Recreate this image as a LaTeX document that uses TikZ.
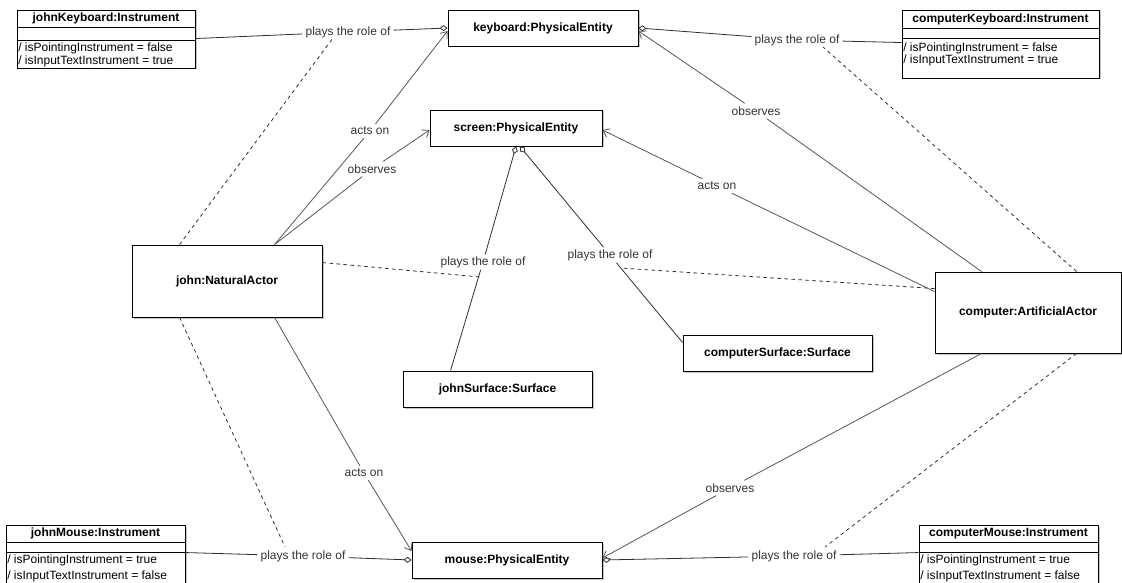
\documentclass[tikz,border=0pt]{standalone}
\usepackage{fontspec}
\setmainfont{Liberation Sans}
\usetikzlibrary{arrows.meta,shadows,calc}

\definecolor{edgegray}{HTML}{2E2E2E}
\definecolor{linkgray}{HTML}{555555}
\definecolor{labelgray}{HTML}{333333}

\begin{document}
\begin{tikzpicture}[x=1pt,y=-1pt,
  every node/.style={font=\fontsize{12}{14}\selectfont},
  obj/.style={draw=black, fill=white, line width=0.9pt, inner sep=0pt,
    font=\fontsize{12}{14}\selectfont\bfseries,
    drop shadow={shadow xshift=1.5pt, shadow yshift=-1.5pt, fill=gray, opacity=0.45}},
  sepline/.style={draw=black, line width=0.9pt},
  ttl/.style={font=\fontsize{12}{14}\selectfont\bfseries, inner sep=0pt},
  attr/.style={anchor=west, inner sep=0pt},
  role/.style={text=labelgray, inner xsep=3pt, inner ysep=2pt},
  rel/.style={text=labelgray, inner xsep=3pt, inner ysep=3pt},
  roleline/.style={draw=edgegray, line width=0.8pt},
  agg/.style={-{Diamond[fill=white, length=8pt, width=6pt]}},
  relline/.style={draw=linkgray, line width=0.8pt, -{Straight Barb[length=6pt, width=9pt]}},
  assoc/.style={draw=edgegray, line width=0.8pt, dash pattern=on 3.5pt off 3.5pt}
]
\useasboundingbox (0,0) rectangle (1122,583);

% ---------- physical entities and actors ----------
\node[obj, minimum width=190pt, minimum height=36pt] (keyboard) at (543,28) {keyboard:PhysicalEntity};
\node[obj, minimum width=172pt, minimum height=36pt] (screen) at (516,128) {screen:PhysicalEntity};
\node[obj, minimum width=190pt, minimum height=36pt] (mouse) at (507,560) {mouse:PhysicalEntity};
\node[obj, minimum width=190pt, minimum height=72pt] (john) at (227,281) {john:NaturalActor};
\node[obj, minimum width=186pt, minimum height=81pt] (computer) at (1028,312.5) {computer:ArtificialActor};
\node[obj, minimum width=189pt, minimum height=36pt] (js) at (497.5,389) {johnSurface:Surface};
\node[obj, minimum width=189pt, minimum height=36pt] (cs) at (777.5,353) {computerSurface:Surface};

% ---------- instruments (three compartments) ----------
\node[obj, minimum width=178pt, minimum height=58pt] (jk) at (106,39) {};
\draw[sepline] ($(jk.north west)+(0,18)$) -- ($(jk.north east)+(0,18)$);
\draw[sepline] ($(jk.north west)+(0,31)$) -- ($(jk.north east)+(0,31)$);
\node[ttl] at ($(jk.north)+(0,9)$) {johnKeyboard:Instrument};
\node[attr] at ($(jk.north west)+(1.5,38.5)$) {/ isPointingInstrument = false};
\node[attr] at ($(jk.north west)+(1.5,52)$) {/ isInputTextInstrument = true};

\node[obj, minimum width=197pt, minimum height=68pt] (ck) at (1000.5,44) {};
\draw[sepline] ($(ck.north west)+(0,19)$) -- ($(ck.north east)+(0,19)$);
\draw[sepline] ($(ck.north west)+(0,29)$) -- ($(ck.north east)+(0,29)$);
\node[ttl] at ($(ck.north)+(0,9.5)$) {computerKeyboard:Instrument};
\node[attr] at ($(ck.north west)+(1.5,38.5)$) {/ isPointingInstrument = false};
\node[attr] at ($(ck.north west)+(1.5,51)$) {/ isInputTextInstrument = true};

\node[obj, minimum width=179pt, minimum height=75pt] (jm) at (95.5,562.5) {};
\draw[sepline] ($(jm.north west)+(0,18)$) -- ($(jm.north east)+(0,18)$);
\draw[sepline] ($(jm.north west)+(0,28)$) -- ($(jm.north east)+(0,28)$);
\node[ttl] at ($(jm.north)+(0,9)$) {johnMouse:Instrument};
\node[attr] at ($(jm.north west)+(1.5,36)$) {/ isPointingInstrument = true};
\node[attr] at ($(jm.north west)+(1.5,52)$) {/ isInputTextInstrument = false};

\node[obj, minimum width=179pt, minimum height=75pt] (cm) at (1008.5,562.5) {};
\draw[sepline] ($(cm.north west)+(0,18)$) -- ($(cm.north east)+(0,18)$);
\draw[sepline] ($(cm.north west)+(0,28)$) -- ($(cm.north east)+(0,28)$);
\node[ttl] at ($(cm.north)+(0,9)$) {computerMouse:Instrument};
\node[attr] at ($(cm.north west)+(1.5,36)$) {/ isPointingInstrument = true};
\node[attr] at ($(cm.north west)+(1.5,52)$) {/ isInputTextInstrument = false};

% ---------- link labels ----------
\node[role] (lJK) at (348,32) {plays the role of};
\node[role] (lCK) at (797,40) {plays the role of};
\node[role] (lJM) at (303,556) {plays the role of};
\node[role] (lCM) at (794,556) {plays the role of};
\node[role] (lJS) at (483,262) {plays the role of};
\node[role] (lCS) at (610,255) {plays the role of};

\node[rel] (aK) at (370,131) {acts on};
\node[rel] (oS) at (372,169) {observes};
\node[rel] (aM) at (364,473) {acts on};
\node[rel] (oK) at (756,111) {observes};
\node[rel] (aS) at (717,186) {acts on};
\node[rel] (oM) at (730,488) {observes};

% ends of the association-class links
\coordinate (cJK) at (333,38);
\coordinate (cJM) at (285,547);
\coordinate (cJS) at (480,277);
\coordinate (cCS) at (620,268);
\coordinate (cCK) at (823,47);
\coordinate (cCM) at (825,547);

% ---------- "plays the role of" links ----------
\draw[roleline, agg] ($(jk.north east)+(0,29)$) -- (lJK) -- (keyboard.west);
\draw[roleline, agg] ($(ck.north west)+(0,33)$) -- (lCK) -- (keyboard.east);
\draw[roleline, agg] ($(jm.north east)+(0,28)$) -- (lJM) -- (mouse.west);
\draw[roleline, agg] ($(cm.north west)+(0,28)$) -- (lCM) -- (mouse.east);
\draw[roleline, agg] ($(js.north west)+(48,0)$) -- (lJS) -- (screen.south);
\draw[roleline, agg] ($(cs.north west)+(0,8)$) -- (lCS) -- ($(screen.south)+(4,0)$);

% ---------- "acts on" / "observes" links ----------
\draw[relline] ($(john.north west)+(143,0)$) -- (aK) -- ($(keyboard.west)+(0,3)$);
\draw[relline] ($(john.north west)+(143,0)$) -- (oS) -- ($(screen.west)+(0,2)$);
\draw[relline] ($(john.south west)+(143,0)$) -- (aM) -- ($(mouse.west)+(0,-9)$);
\draw[relline] ($(computer.north west)+(47,0)$) -- (oK) -- ($(keyboard.east)+(0,3)$);
\draw[relline] ($(computer.north west)+(0,20)$) -- (aS) -- ($(screen.east)+(0,2)$);
\draw[relline] ($(computer.south west)+(47,0)$) -- (oM) -- ($(mouse.east)+(0,-2)$);

% ---------- association-class links ----------
\draw[assoc] ($(john.north west)+(48,0)$) -- (cJK);
\draw[assoc] ($(john.south west)+(48,0)$) -- (cJM);
\draw[assoc] ($(john.north east)+(0,18)$) -- (cJS);
\draw[assoc] ($(computer.north west)+(0,17)$) -- (cCS);
\draw[assoc] ($(computer.north west)+(142,0)$) -- (cCK);
\draw[assoc] ($(computer.south west)+(142,0)$) -- (cCM);
\end{tikzpicture}
\end{document}
